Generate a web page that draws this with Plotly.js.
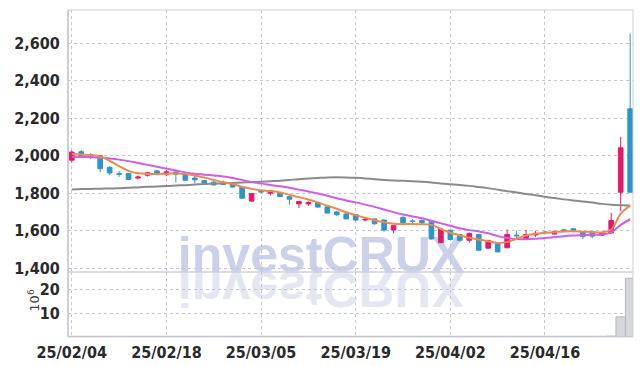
<!DOCTYPE html>
<html><head><meta charset="utf-8">
<script src="https://cdn.plot.ly/plotly-3.0.1.min.js"></script>
<style>html,body{margin:0;padding:0;background:#fff}#chart{width:642px;height:366px}</style>
</head><body><div id="chart"></div>
<script>
const dates = ["25/02/04","25/02/05","25/02/06","25/02/07","25/02/10","25/02/11","25/02/12","25/02/13","25/02/14","25/02/17",
"25/02/18","25/02/19","25/02/20","25/02/21","25/02/24","25/02/25","25/02/26","25/02/27","25/02/28","25/03/04",
"25/03/05","25/03/06","25/03/07","25/03/10","25/03/11","25/03/12","25/03/13","25/03/14","25/03/17","25/03/18",
"25/03/19","25/03/20","25/03/21","25/03/24","25/03/25","25/03/26","25/03/27","25/03/28","25/03/31","25/04/01",
"25/04/02","25/04/03","25/04/04","25/04/07","25/04/08","25/04/09","25/04/10","25/04/11","25/04/14","25/04/15",
"25/04/16","25/04/17","25/04/18","25/04/21","25/04/22","25/04/23","25/04/24","25/04/25","25/04/28","25/04/29"];

const openP = [1975,2020,2005,2000,1937,1903,1905,1880,1895,1918,
1900,1912,1898,1880,1867,1858,1850,1850,1833,1757,
1810,1799,1800,1780,1742,1742,1748,1726,1699,1688,
1685,1656,1662,1656,1603,1670,1651,1653,1650,1535,
1602,1579,1548,1579,1506,1532,1508,1575,1557,1576,
1592,1581,1603,1609,1593,1588,1575,1587,1804,2249];
const highP = [2027,2030,2012,2002,1943,1918,1907,1893,1910,1923,
1925,1915,1900,1890,1870,1866,1867,1853,1835,1798,
1814,1814,1803,1783,1757,1756,1750,1727,1705,1700,
1688,1666,1664,1658,1627,1676,1662,1660,1652,1607,
1604,1580,1590,1580,1548,1534,1605,1600,1603,1598,
1598,1598,1610,1612,1595,1590,1588,1694,2100,2651];
const lowP = [1963,1993,1982,1910,1895,1886,1870,1872,1888,1893,
1890,1856,1865,1852,1850,1840,1843,1830,1768,1752,
1800,1787,1778,1738,1720,1730,1720,1690,1678,1660,
1652,1648,1630,1593,1584,1634,1638,1630,1552,1533,
1550,1540,1536,1493,1504,1484,1506,1560,1555,1566,
1584,1578,1594,1590,1555,1560,1572,1584,1703,1804];
const closeP = [2018,1996,1992,1930,1907,1900,1872,1885,1908,1903,
1913,1900,1868,1870,1853,1843,1846,1832,1772,1797,
1806,1812,1781,1767,1755,1750,1725,1693,1684,1662,
1656,1659,1636,1603,1626,1641,1648,1643,1555,1607,
1552,1548,1584,1495,1547,1486,1579,1572,1579,1585,
1589,1595,1601,1600,1568,1570,1587,1653,2041,1804];

const ma5 = [2008,2005,2002,1995,1972,1943,1918,1905,1902,1902,
1903,1904,1901,1893,1882,1870,1858,1848,1833,1822,
1815,1810,1803,1790,1778,1765,1750,1732,1716,1697,
1682,1668,1655,1644,1636,1634,1635,1634,1630,1608,
1588,1575,1561,1552,1543,1534,1538,1556,1573,1582,
1588,1591,1595,1596,1594,1592,1590,1605,1690,1733];
const ma20 = [1993,1992,1991,1989,1984,1978,1970,1960,1950,1940,
1930,1920,1910,1903,1898,1893,1888,1880,1870,1858,
1850,1843,1836,1828,1818,1808,1797,1785,1772,1760,
1750,1738,1726,1712,1698,1685,1675,1665,1652,1638,
1625,1612,1602,1595,1585,1570,1560,1555,1554,1556,
1560,1565,1570,1573,1575,1577,1578,1590,1630,1660];
const ma120 = [1819,1821,1822,1823,1824,1826,1828,1830,1833,1835,
1838,1840,1842,1845,1848,1850,1852,1854,1856,1858,
1860,1863,1866,1870,1874,1877,1880,1883,1884,1883,
1881,1878,1874,1870,1867,1865,1863,1860,1856,1851,
1847,1843,1838,1832,1826,1818,1810,1803,1795,1788,
1780,1773,1766,1760,1755,1749,1742,1737,1735,1733];

const volume = [0.3,0.3,0.3,0.3,0.3,0.3,0.3,0.3,0.3,0.3,
0.3,0.3,0.3,0.3,0.3,0.3,0.3,0.3,0.3,0.3,
0.3,0.3,0.3,0.3,0.3,0.3,0.3,0.3,0.3,0.3,
0.3,0.3,0.3,0.3,0.3,0.3,0.3,0.3,0.3,0.3,
0.3,0.3,0.3,0.3,0.3,0.3,0.3,0.3,0.3,0.3,
0.3,0.3,0.3,0.3,0.3,0.3,0.3,0.4,8.4,24.5];

const xTicks = ["25/02/04","25/02/18","25/03/05","25/03/19","25/04/02","25/04/16"];
const priceTicks = [1400,1600,1800,2000,2200,2400,2600];
const volTicks = [10,20];

const UP = '#e5196c', DOWN = '#2e95c8';
const tickFont = {family:'"Liberation Sans Narrow","DejaVu Sans Condensed",sans-serif', size:16, color:'#2a2a2a', weight:'bold'};

const traces = [
  {type:'bar', x:dates, y:volume, xaxis:'x', yaxis:'y2', marker:{color:'#d6d6dd', line:{color:'#b5b5bf', width:1}}, hoverinfo:'skip'},
  {type:'scatter', mode:'lines', x:dates, y:ma120, line:{color:'#8a8a8a', width:2, shape:'spline'}, hoverinfo:'skip'},
  {type:'scatter', mode:'lines', x:dates, y:ma20, line:{color:'#cf5ded', width:2, shape:'spline'}, hoverinfo:'skip'},
  {type:'scatter', mode:'lines', x:dates, y:ma5, line:{color:'#f08a4b', width:2, shape:'spline'}, hoverinfo:'skip'},
  {type:'candlestick', x:dates, open:openP, high:highP, low:lowP, close:closeP,
   increasing:{line:{color:UP, width:1}, fillcolor:UP},
   decreasing:{line:{color:DOWN, width:1}, fillcolor:DOWN}, hoverinfo:'skip'}
];

const L = 68.3, R = 632.7, T = 10, B = 337;
const W = R - L, H = B - T;
const split = (B - 272) / H;

const svg = '<svg xmlns="http://www.w3.org/2000/svg" width="300" height="100">' +
  '<g font-family="Liberation Sans, Arial, sans-serif" font-weight="bold" font-size="50">' +
  '<text x="8" y="47" fill="#cad1e8">investCRUX</text>' +
  '<text x="8" y="47" fill="#e4e7f2" transform="translate(0,94) scale(1,-1)">investCRUX</text>' +
  '</g></svg>';

const layout = {
  width:642, height:366,
  margin:{l:L, r:642-R, t:T, b:366-B, pad:0},
  paper_bgcolor:'#ffffff', plot_bgcolor:'rgba(0,0,0,0)',
  showlegend:false,
  xaxis:{type:'category', range:[-0.4, 59.3], anchor:'y2', rangeslider:{visible:false},
    tickvals:xTicks, ticktext:xTicks, tickfont:tickFont, ticks:'outside', ticklen:1, tickcolor:'rgba(0,0,0,0)',
    showgrid:true, gridcolor:'#c3c6db', griddash:'dot', gridwidth:1, zeroline:false, showline:false},
  yaxis:{domain:[split,1], range:[1378.7, 2776], tickvals:priceTicks, tickformat:',', tickfont:tickFont,
    ticks:'outside', ticklen:4, tickcolor:'rgba(0,0,0,0)',
    showgrid:true, gridcolor:'#c3c6db', griddash:'dot', gridwidth:1, zeroline:false, showline:false},
  yaxis2:{domain:[0,split], range:[0,27.1], tickvals:volTicks, tickfont:tickFont,
    ticks:'outside', ticklen:4, tickcolor:'rgba(0,0,0,0)',
    showgrid:true, gridcolor:'#c3c6db', griddash:'dot', gridwidth:1, zeroline:false, showline:false},
  bargap:0,
  annotations:[{text:'10<sup>6</sup>', xref:'paper', yref:'paper', x:(34-L)/W, y:(B-300)/H,
    xanchor:'center', yanchor:'middle', textangle:-90, showarrow:false,
    font:{family:'"DejaVu Sans",sans-serif', size:13, color:'#444'}}],
  shapes:[
    {type:'rect', xref:'paper', yref:'paper', x0:0, x1:1, y0:0, y1:1, line:{color:'#cfd0da', width:1}},
    {type:'line', xref:'paper', yref:'paper', x0:0, x1:1, y0:split, y1:split, line:{color:'#cfd0da', width:1.5}},
    {type:'line', xref:'paper', yref:'paper', x0:0, x1:0, y0:0, y1:1, line:{color:'#c4c6d3', width:1.5}}
  ],
  images:[{source:'data:image/svg+xml;charset=utf-8,' + encodeURIComponent(svg),
    xref:'paper', yref:'paper', x:(170-L)/W, y:(B-225)/H, sizex:300/W, sizey:100/H,
    xanchor:'left', yanchor:'top', sizing:'stretch', layer:'below'}]
};

Plotly.newPlot('chart', traces, layout, {staticPlot:true, displayModeBar:false});
</script></body></html>
